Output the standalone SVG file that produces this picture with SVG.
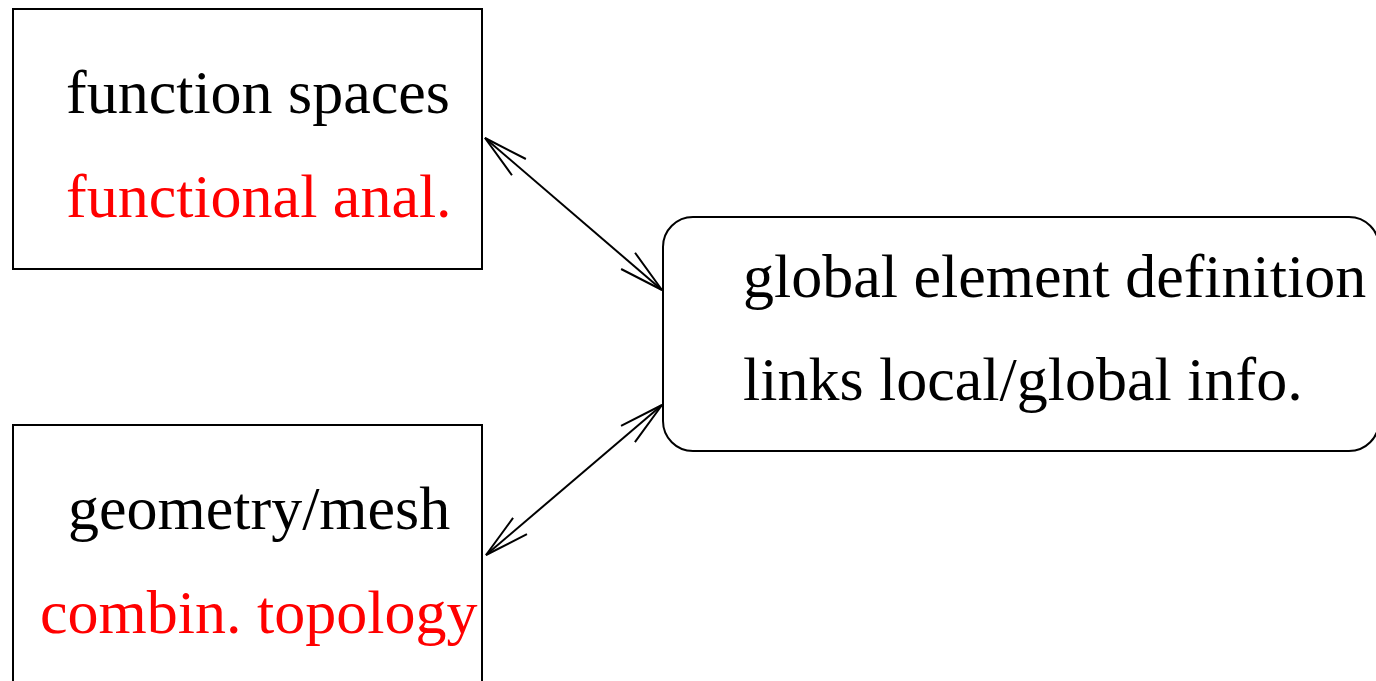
<svg xmlns="http://www.w3.org/2000/svg" width="1376" height="681" viewBox="0 0 1376 681">
  <style>
    .box { fill: #ffffff; stroke: #000000; stroke-width: 2; }
    .label { font-family: "Liberation Serif", "Times New Roman", serif; font-size: 62px; }
    .black { fill: #000000; }
    .red { fill: #ff0000; }
    .link { stroke: #000000; stroke-width: 2; fill: none; marker-start: url(#vee); marker-end: url(#vee); }
  </style>
  <defs>
    <!-- open V arrowhead, used at both ends of every link -->
    <marker id="vee" markerUnits="userSpaceOnUse" viewBox="-50 -15 55 30" refX="0" refY="0"
            markerWidth="55" markerHeight="30" orient="auto-start-reverse" overflow="visible">
      <path d="M -44.7 -10.7 L 0 0 L -44.7 10.7" fill="none" stroke="#000000" stroke-width="2"/>
    </marker>
  </defs>
  <rect width="1376" height="681" fill="#ffffff"/>

  <g id="function-spaces">
    <rect class="box" x="13" y="9" width="469" height="260"/>
    <text class="label black" x="66" y="113">function spaces</text>
    <text class="label red" x="66" y="217">functional anal.</text>
  </g>

  <g id="geometry-mesh">
    <rect class="box" x="13" y="425" width="469" height="280"/>
    <text class="label black" x="68" y="529">geometry/mesh</text>
    <text class="label red" x="40" y="633">combin. topology</text>
  </g>

  <g id="global-element">
    <rect class="box" x="663" y="217" width="716" height="234" rx="30" ry="30"/>
    <text class="label black" x="743" y="297">global element definition</text>
    <text class="label black" x="743" y="400">links local/global info.</text>
  </g>

  <g id="connectors">
    <line class="link" x1="485" y1="138" x2="662" y2="290"/>
    <line class="link" x1="662" y1="405" x2="486" y2="555"/>
  </g>
</svg>
